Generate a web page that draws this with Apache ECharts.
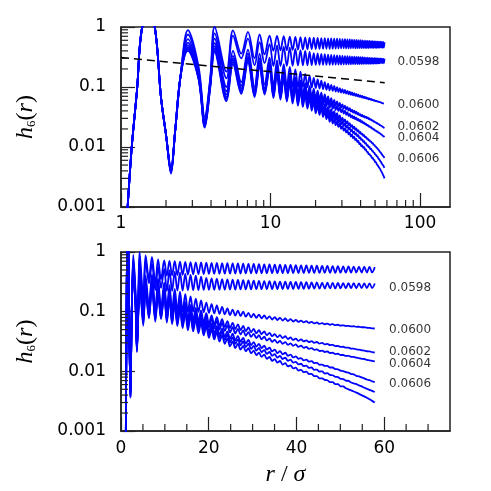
<!DOCTYPE html>
<html>
<head>
<meta charset="utf-8">
<script src="https://cdn.jsdelivr.net/npm/echarts@6/dist/echarts.min.js"></script>
<style>
  html, body { margin: 0; padding: 0; background: #fff; }
  #chart { width: 491px; height: 491px; }
</style>
</head>
<body>
<div id="chart"></div>
<script>
// r/sigma positions of the extrema, shared by every curve
const rGrid = [
  1.10, 1.18, 1.28, 1.38, 1.53, 1.68, 1.85, 2.0, 2.16, 2.3,
  2.5, 2.8, 3.3, 3.63, 3.95, 4.23, 5.07, 5.61, 6.37, 7.06,
  7.82, 8.45, 9.12,
  9.85, 10.45, 11.05, 11.65, 12.25, 12.85, 13.45, 14.05, 14.65, 15.25,
  15.85, 16.45, 17.05, 17.65, 18.25, 18.85, 19.45, 20.05, 20.65, 21.25,
  21.85, 22.45, 23.05, 23.65, 24.25, 24.85, 25.45, 26.05, 26.65, 27.25,
  27.85, 28.45, 29.05, 29.65, 30.25, 30.85, 31.45, 32.05, 32.65, 33.25,
  33.85, 34.45, 35.05, 35.65, 36.25, 36.85, 37.45, 38.05, 38.65, 39.25,
  39.85, 40.45, 41.05, 41.65, 42.25, 42.85, 43.45, 44.05, 44.65, 45.25,
  45.85, 46.45, 47.05, 47.65, 48.25, 48.85, 49.45, 50.05, 50.65, 51.25,
  51.85, 52.45, 53.05, 53.65, 54.25, 54.85, 55.45, 56.05, 56.65, 57.25,
  57.85
];

// h6(r), top curve to bottom curve
const h1 = [
  0.00076, 0.01, 0.09, 0.95, 1.3, 1.02, 0.068, 0.016, 0.0045, 0.018,
  0.15, 0.89, 0.22, 0.032, 0.14, 1.0, 0.18, 0.88, 0.36, 0.83,
  0.3, 0.75, 0.35,
  0.72, 0.402, 0.712, 0.407, 0.702, 0.411, 0.692, 0.416, 0.683, 0.42,
  0.677, 0.423, 0.672, 0.425, 0.667, 0.428, 0.662, 0.43, 0.658, 0.431,
  0.655, 0.432, 0.652, 0.433, 0.648, 0.434, 0.645, 0.435, 0.641, 0.436,
  0.637, 0.438, 0.633, 0.44, 0.629, 0.44, 0.626, 0.44, 0.622, 0.441,
  0.619, 0.441, 0.615, 0.442, 0.612, 0.442, 0.608, 0.443, 0.605, 0.444,
  0.601, 0.445, 0.598, 0.445, 0.595, 0.446, 0.592, 0.446, 0.589, 0.447,
  0.586, 0.448, 0.583, 0.448, 0.58, 0.449, 0.577, 0.45, 0.574, 0.45,
  0.572, 0.451, 0.57, 0.452, 0.568, 0.452, 0.566, 0.453, 0.563, 0.454,
  0.56
];
const h2 = [
  0.00076, 0.01, 0.09, 0.95, 1.3, 1.02, 0.068, 0.016, 0.0043, 0.018,
  0.15, 0.75, 0.19, 0.029, 0.13, 0.78, 0.14, 0.72, 0.3, 0.64,
  0.23, 0.56, 0.25,
  0.52, 0.222, 0.495, 0.224, 0.47, 0.225, 0.452, 0.226, 0.43, 0.228,
  0.413, 0.229, 0.4, 0.23, 0.385, 0.231, 0.368, 0.233, 0.362, 0.233,
  0.357, 0.234, 0.352, 0.234, 0.347, 0.235, 0.343, 0.235, 0.34, 0.236,
  0.337, 0.236, 0.334, 0.237, 0.331, 0.238, 0.328, 0.238, 0.326, 0.239,
  0.324, 0.239, 0.322, 0.24, 0.32, 0.24, 0.318, 0.241, 0.316, 0.241,
  0.315, 0.242, 0.313, 0.242, 0.311, 0.243, 0.309, 0.243, 0.308, 0.244,
  0.306, 0.244, 0.305, 0.245, 0.304, 0.245, 0.303, 0.246, 0.302, 0.246,
  0.301, 0.247, 0.3, 0.247, 0.299, 0.248, 0.298, 0.249, 0.297, 0.249,
  0.296
];
const h3 = [
  0.00076, 0.01, 0.09, 0.95, 1.3, 1.02, 0.068, 0.016, 0.0041, 0.018,
  0.15, 0.63, 0.17, 0.027, 0.12, 0.64, 0.1, 0.4, 0.12, 0.42,
  0.1, 0.36, 0.11,
  0.308, 0.1045, 0.278, 0.1035, 0.241, 0.1024, 0.2168, 0.101, 0.1966, 0.0999,
  0.1797, 0.1002, 0.1659, 0.0991, 0.1539, 0.0978, 0.1422, 0.0957, 0.1342, 0.0939,
  0.1272, 0.092, 0.1203, 0.09, 0.1137, 0.0876, 0.1085, 0.086, 0.1039, 0.0842,
  0.0999, 0.0823, 0.0958, 0.0804, 0.092, 0.079, 0.0891, 0.0773, 0.0862, 0.0757,
  0.0836, 0.0739, 0.081, 0.0725, 0.0789, 0.0711, 0.0768, 0.0698, 0.0748, 0.0684,
  0.0727, 0.0672, 0.0709, 0.066, 0.0692, 0.0649, 0.0675, 0.0636, 0.0658, 0.0625,
  0.0644, 0.0615, 0.0631, 0.0604, 0.0617, 0.0594, 0.0604, 0.0583, 0.0591, 0.0574,
  0.058, 0.0565, 0.057, 0.0558, 0.0559, 0.0548, 0.0548, 0.0538, 0.0536, 0.0526,
  0.0522
];
const h4 = [
  0.00076, 0.01, 0.09, 0.95, 1.3, 1.02, 0.068, 0.016, 0.004, 0.018,
  0.15, 0.55, 0.155, 0.025, 0.115, 0.54, 0.085, 0.33, 0.105, 0.36,
  0.09, 0.3, 0.095,
  0.258, 0.0863, 0.2266, 0.0832, 0.191, 0.0798, 0.1659, 0.0758, 0.1443, 0.0721,
  0.1284, 0.0708, 0.1158, 0.0683, 0.1048, 0.0657, 0.0941, 0.0623, 0.0868, 0.0602,
  0.0808, 0.0579, 0.075, 0.0555, 0.0694, 0.0529, 0.065, 0.0511, 0.0612, 0.0491,
  0.0577, 0.0472, 0.0544, 0.0452, 0.0512, 0.0436, 0.0488, 0.042, 0.0465, 0.0404,
  0.0442, 0.0388, 0.042, 0.0373, 0.0403, 0.0361, 0.0387, 0.0348, 0.037, 0.0336,
  0.0354, 0.0325, 0.0343, 0.0317, 0.0331, 0.0309, 0.032, 0.0301, 0.031, 0.0292,
  0.0299, 0.0283, 0.0289, 0.0275, 0.0278, 0.0265, 0.0267, 0.0257, 0.0258, 0.0249,
  0.0249, 0.0241, 0.0241, 0.0233, 0.0231, 0.0225, 0.0223, 0.0217, 0.0216, 0.021,
  0.0207
];
const h5 = [
  0.00076, 0.01, 0.09, 0.95, 1.3, 1.02, 0.068, 0.016, 0.0039, 0.018,
  0.15, 0.5, 0.15, 0.024, 0.11, 0.48, 0.075, 0.3, 0.095, 0.32,
  0.083, 0.27, 0.087,
  0.241, 0.0804, 0.2102, 0.0769, 0.1756, 0.0732, 0.1518, 0.0692, 0.1315, 0.0655,
  0.1163, 0.064, 0.1042, 0.0613, 0.0935, 0.0584, 0.0832, 0.0548, 0.076, 0.0525,
  0.0703, 0.0502, 0.0646, 0.0476, 0.0592, 0.0449, 0.055, 0.0432, 0.0516, 0.0414,
  0.0485, 0.0395, 0.0455, 0.0377, 0.0426, 0.0361, 0.0403, 0.0345, 0.038, 0.0328,
  0.0357, 0.0312, 0.0337, 0.0299, 0.0323, 0.0289, 0.0309, 0.0278, 0.0295, 0.0268,
  0.0282, 0.0257, 0.0269, 0.0248, 0.0257, 0.0238, 0.0245, 0.0229, 0.0233, 0.0219,
  0.0223, 0.0211, 0.0215, 0.0203, 0.0205, 0.0195, 0.0197, 0.0188, 0.0188, 0.0181,
  0.0182, 0.0175, 0.0174, 0.0169, 0.0167, 0.0162, 0.0161, 0.0155, 0.0153, 0.015,
  0.0147
];
const h6 = [
  0.00076, 0.01, 0.09, 0.95, 1.3, 1.02, 0.068, 0.016, 0.0038, 0.018,
  0.15, 0.46, 0.145, 0.023, 0.105, 0.44, 0.068, 0.28, 0.088, 0.3,
  0.078, 0.25, 0.082,
  0.224, 0.0742, 0.1925, 0.0697, 0.1576, 0.0652, 0.1349, 0.0613, 0.1159, 0.0575,
  0.1016, 0.0556, 0.09, 0.0526, 0.0798, 0.0494, 0.0699, 0.0457, 0.063, 0.0432,
  0.0574, 0.0407, 0.052, 0.038, 0.0468, 0.0351, 0.0427, 0.0332, 0.0394, 0.0314,
  0.0365, 0.0294, 0.0335, 0.0275, 0.0309, 0.026, 0.0288, 0.0245, 0.0269, 0.0231,
  0.0249, 0.0216, 0.0232, 0.0203, 0.0218, 0.0193, 0.0205, 0.0182, 0.0191, 0.0171,
  0.0178, 0.0162, 0.0167, 0.0153, 0.0157, 0.0145, 0.0148, 0.0137, 0.0139, 0.0129,
  0.013, 0.0123, 0.0123, 0.0116, 0.0116, 0.0109, 0.0108, 0.0103, 0.0101, 0.0097,
  0.0095, 0.009, 0.0089, 0.0084, 0.0082, 0.0079, 0.0076, 0.0073, 0.0071, 0.0068,
  0.0066
];
const h7 = [
  0.00076, 0.01, 0.09, 0.95, 1.3, 1.02, 0.068, 0.016, 0.0037, 0.018,
  0.15, 0.43, 0.14, 0.022, 0.1, 0.41, 0.063, 0.26, 0.082, 0.28,
  0.073, 0.23, 0.078,
  0.211, 0.0696, 0.1807, 0.0655, 0.1481, 0.0612, 0.1261, 0.0571, 0.1075, 0.0531,
  0.0937, 0.0511, 0.0828, 0.0483, 0.073, 0.0451, 0.0636, 0.0415, 0.057, 0.039,
  0.0516, 0.0364, 0.0462, 0.0336, 0.0411, 0.0307, 0.0372, 0.0289, 0.0343, 0.0273,
  0.0316, 0.0255, 0.029, 0.0237, 0.0266, 0.0223, 0.0247, 0.0209, 0.0229, 0.0196,
  0.0211, 0.0182, 0.0195, 0.017, 0.0181, 0.0161, 0.0169, 0.015, 0.0157, 0.014,
  0.0144, 0.0131, 0.0134, 0.0122, 0.0125, 0.0114, 0.0116, 0.0106, 0.0107, 0.0099,
  0.01, 0.0092, 0.0093, 0.0087, 0.0086, 0.0081, 0.008, 0.0075, 0.0074, 0.007,
  0.0069, 0.0065, 0.0063, 0.0061, 0.0058, 0.0056, 0.0053, 0.0051, 0.0049, 0.0047,
  0.0045
];
const h8 = [
  0.00076, 0.01, 0.09, 0.95, 1.3, 1.02, 0.068, 0.016, 0.0036, 0.018,
  0.15, 0.4, 0.135, 0.021, 0.098, 0.38, 0.058, 0.24, 0.077, 0.26,
  0.068, 0.21, 0.075,
  0.199, 0.0655, 0.17, 0.0615, 0.1388, 0.0572, 0.1174, 0.0529, 0.0991, 0.0488,
  0.0856, 0.0466, 0.0751, 0.0435, 0.0655, 0.0402, 0.0564, 0.0365, 0.05, 0.0342,
  0.045, 0.0316, 0.0401, 0.029, 0.0354, 0.0262, 0.0317, 0.0246, 0.0292, 0.0231,
  0.0267, 0.0216, 0.0244, 0.02, 0.0223, 0.0187, 0.0206, 0.0175, 0.019, 0.0162,
  0.0174, 0.015, 0.016, 0.014, 0.0149, 0.013, 0.0137, 0.0121, 0.0126, 0.0112,
  0.0115, 0.0103, 0.0106, 0.0097, 0.0099, 0.009, 0.0091, 0.0083, 0.0083, 0.0076,
  0.0076, 0.0072, 0.0071, 0.0066, 0.0066, 0.0061, 0.0061, 0.0056, 0.0056, 0.0052,
  0.005, 0.0048, 0.0046, 0.0044, 0.0042, 0.004, 0.0038, 0.0036, 0.0034, 0.0032,
  0.003
];
const curves = [h1, h2, h3, h4, h5, h6, h7, h8];

// curve labels and the h value each one sits at
const curveLabels = ['0.0598', '0.0600', '0.0602', '0.0604', '0.0606'];
const labelHTop = [0.26, 0.05, 0.0215, 0.0141, 0.0063];
const labelHBottom = [0.25, 0.049, 0.0215, 0.0131, 0.0062];

// dashed power-law guide (top panel)
const dashR = [1, 58];
const dashH = [0.31, 0.118];

// minor tick values
const logXMinor = [2, 3, 4, 5, 6, 7, 8, 9, 20, 30, 40, 50, 60, 70, 80, 90];
const logYMinor = [0.002, 0.003, 0.004, 0.005, 0.006, 0.007, 0.008, 0.009,
  0.02, 0.03, 0.04, 0.05, 0.06, 0.07, 0.08, 0.09,
  0.2, 0.3, 0.4, 0.5, 0.6, 0.7, 0.8, 0.9];
const linXMinor = [5, 10, 15, 25, 30, 35, 45, 50, 55, 65, 70];

const BLUE = '#0000ff';
const AXIS = '#222';
const SANS = 'DejaVu Sans';
const SERIF = 'Liberation Serif';

const chart = echarts.init(document.getElementById('chart'));

function pairs(xs, ys) {
  return xs.map((x, i) => [x, ys[i]]);
}

function curveSeries(idx) {
  return curves.map(h => ({
    type: 'line',
    xAxisIndex: idx,
    yAxisIndex: idx,
    data: pairs(rGrid, h),
    showSymbol: false,
    smooth: 0.35,
    lineStyle: { color: BLUE, width: 1.8 },
    silent: true,
    z: 3
  }));
}

function minorTickSeries(idx, values, dir, xEdge, yEdge) {
  return {
    type: 'custom',
    xAxisIndex: idx,
    yAxisIndex: idx,
    silent: true,
    clip: false,
    z: 5,
    data: values.map(v => [v]),
    renderItem: function (params, api) {
      const v = api.value(0);
      let shape;
      if (dir === 'x') {
        const p = api.coord([v, yEdge]);
        shape = { x1: p[0], y1: p[1], x2: p[0], y2: p[1] - 7 };
      } else {
        const p = api.coord([xEdge, v]);
        shape = { x1: p[0], y1: p[1], x2: p[0] + 7, y2: p[1] };
      }
      return { type: 'line', shape: shape, style: { stroke: AXIS, lineWidth: 1.2 } };
    }
  };
}

function labelSeries(idx, x, hs) {
  return {
    type: 'scatter',
    xAxisIndex: idx,
    yAxisIndex: idx,
    symbolSize: 1,
    itemStyle: { color: 'rgba(0,0,0,0)' },
    silent: true,
    data: hs.map((h, i) => ({ value: [x, h], name: curveLabels[i] })),
    label: {
      show: true, position: 'right', distance: 0, formatter: '{b}',
      color: '#000', fontFamily: SANS, fontSize: 12
    }
  };
}

const nameRich = {
  i: { fontFamily: SERIF, fontStyle: 'italic', fontSize: 24, color: '#000' },
  s: { fontFamily: SERIF, fontSize: 13, color: '#000', verticalAlign: 'bottom' },
  p: { fontFamily: SERIF, fontSize: 24, color: '#000' }
};

function yAxis(idx) {
  return {
    gridIndex: idx,
    type: 'log',
    logBase: 10,
    min: 0.001,
    max: 1,
    axisLine: { show: true, lineStyle: { color: AXIS, width: 1.5 } },
    axisTick: { inside: true, length: 14, lineStyle: { color: AXIS, width: 1.2 } },
    axisLabel: { color: '#000', fontFamily: SANS, fontSize: 17, margin: 15 },
    splitLine: { show: false },
    name: '{i|h}{s|6}{p|(}{i|r}{p|)}',
    nameLocation: 'middle',
    nameRotate: 90,
    nameGap: 83,
    nameTextStyle: { rich: nameRich }
  };
}

const option = {
  animation: false,
  backgroundColor: '#fff',
  grid: [
    { left: 121, top: 27, width: 329, height: 180, show: true, borderColor: AXIS, borderWidth: 1.5 },
    { left: 121, top: 252, width: 329, height: 179, show: true, borderColor: AXIS, borderWidth: 1.5 }
  ],
  xAxis: [
    {
      gridIndex: 0,
      type: 'log',
      logBase: 10,
      min: 1,
      max: 158.5,
      axisLine: { show: true, lineStyle: { color: AXIS, width: 1.5 } },
      axisTick: { inside: true, length: 14, lineStyle: { color: AXIS, width: 1.2 } },
      axisLabel: { color: '#000', fontFamily: SANS, fontSize: 17, margin: 8, showMaxLabel: false },
      splitLine: { show: false }
    },
    {
      gridIndex: 1,
      type: 'value',
      min: 0,
      max: 75,
      interval: 20,
      axisLine: { show: true, lineStyle: { color: AXIS, width: 1.5 } },
      axisTick: { inside: true, length: 14, lineStyle: { color: AXIS, width: 1.2 } },
      axisLabel: { color: '#000', fontFamily: SANS, fontSize: 17, margin: 9, showMaxLabel: false },
      splitLine: { show: false },
      name: '{i|r}{p| / }{i|σ}',
      nameLocation: 'middle',
      nameGap: 32,
      nameTextStyle: { rich: nameRich }
    }
  ],
  yAxis: [yAxis(0), yAxis(1)],
  series: [
    ...curveSeries(0),
    ...curveSeries(1),
    {
      type: 'line',
      xAxisIndex: 0,
      yAxisIndex: 0,
      data: pairs(dashR, dashH),
      showSymbol: false,
      silent: true,
      lineStyle: { color: '#000', width: 1.5, type: [8, 5] },
      z: 4
    },
    labelSeries(0, 70, labelHTop),
    labelSeries(1, 61, labelHBottom),
    minorTickSeries(0, logXMinor, 'x', 1, 0.001),
    minorTickSeries(0, logYMinor, 'y', 1, 0.001),
    minorTickSeries(1, linXMinor, 'x', 0, 0.001),
    minorTickSeries(1, logYMinor, 'y', 0, 0.001)
  ]
};

chart.setOption(option);
</script>
</body>
</html>
